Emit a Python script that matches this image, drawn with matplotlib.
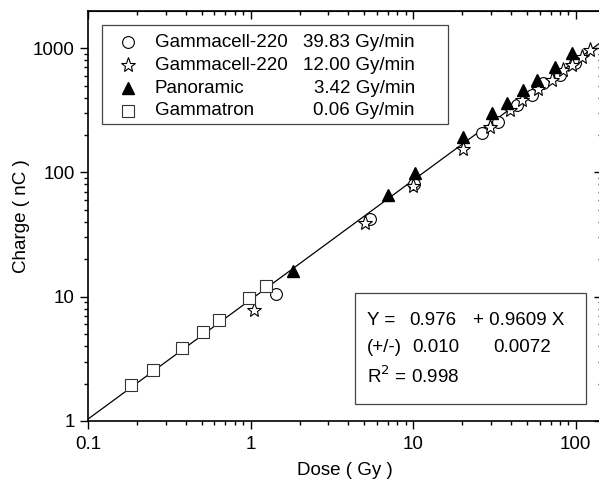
import numpy as np
import matplotlib.pyplot as plt
from matplotlib.patches import Rectangle

plt.rcParams['font.family'] = ['Liberation Sans', 'DejaVu Sans']

# Gammacell-220, 39.83 Gy/min
gc40_dose = [1.43, 5.4, 10.1, 26.5, 33.2, 43.4, 53.7, 62.8, 79.9, 98.7]
gc40_charge = [10.5, 42.2, 80, 207, 254, 349, 419, 524, 608, 759]
# Gammacell-220, 12.00 Gy/min
gc12_dose = [1.05, 5.04, 10.0, 20.2, 29.7, 39.4, 46.6, 58.5, 71.3, 83.3, 94.4, 108.7, 121.8]
gc12_charge = [7.8, 39.2, 77.9, 155, 232, 318, 382, 469, 554, 667, 731, 848, 966]
# Panoramic, 3.42 Gy/min
pan_dose = [1.83, 7.0, 10.2, 20.3, 30.5, 37.7, 47.3, 57.7, 74.3, 94.4]
pan_charge = [16.1, 65.8, 99, 193, 300, 362, 460, 554, 705, 913]
# Gammatron, 0.06 Gy/min
gt_dose = [0.185, 0.252, 0.38, 0.51, 0.644, 0.98, 1.245]
gt_charge = [1.95, 2.57, 3.87, 5.2, 6.5, 9.8, 12.2]

names = ['Gammacell-220', 'Gammacell-220', 'Panoramic', 'Gammatron']
rates = ['39.83 Gy/min', '12.00 Gy/min', '3.42 Gy/min', '0.06 Gy/min']

# log-log fit: log Y = A + B log X
fit_a, fit_b = 0.976, 0.9609

fig = plt.figure(figsize=(5.99, 4.82), dpi=100)
ax = fig.add_axes([0.1469, 0.1266, 0.858, 0.8506])
ax.set_xscale('log')
ax.set_yscale('log')
ax.set_xlim(0.1, 145)
ax.set_ylim(1, 1990)

xf = np.array([0.1, 150])
ax.plot(xf, 10**fit_a * xf**fit_b, color='black', lw=0.9, zorder=1)

mk = dict(linestyle='none', markerfacecolor='white', markeredgewidth=0.8)
styles = [
    dict(marker='o', markersize=8.5, markeredgecolor='black', **mk),
    dict(marker='*', markersize=11, markeredgecolor='black', **mk),
    dict(marker='^', markersize=9, markeredgecolor='black', linestyle='none',
         markerfacecolor='black'),
    dict(marker='s', markersize=8.5, markeredgecolor='#333333', **mk),
]
series = [(gc40_dose, gc40_charge), (gc12_dose, gc12_charge),
          (pan_dose, pan_charge), (gt_dose, gt_charge)]
for (xd, yd), st in zip(series, styles):
    ax.plot(xd, yd, zorder=3, **st)

fs = 13.5
ax.set_xlabel('Dose ( Gy )', fontsize=fs, labelpad=6)
ax.set_ylabel('Charge ( nC )', fontsize=fs, labelpad=2)
ax.set_xticks([0.1, 1, 10, 100])
ax.set_xticklabels(['0.1', '1', '10', '100'])
ax.set_yticks([1, 10, 100, 1000])
ax.set_yticklabels(['1', '10', '100', '1000'])
ax.tick_params(which='major', direction='out', length=6, width=1, labelsize=fs,
               top=False, right=False)
ax.tick_params(axis='x', which='major', pad=5)
ax.tick_params(which='minor', direction='out', length=3, width=1,
               top=False, right=False)
for s in ax.spines.values():
    s.set_linewidth(1.2)

top = ax.secondary_xaxis('top')
top.tick_params(which='major', direction='in', length=6, width=1, labeltop=False)
top.tick_params(which='minor', direction='in', length=3, width=1)
top.set_xticks([0.1, 1, 10, 100])
right = ax.secondary_yaxis('right')
right.tick_params(which='major', direction='in', length=6, width=1, labelright=False)
right.tick_params(which='minor', direction='in', length=3, width=1)
right.set_yticks([1, 10, 100, 1000])

# legend box
ax.add_patch(Rectangle((0.0272, 0.724), 0.673, 0.242, transform=ax.transAxes,
                       fill=False, edgecolor='#444444', lw=0.9, zorder=4))
rows = [0.924, 0.868, 0.812, 0.757]
for yy, st, nm, rt in zip(rows, styles, names, rates):
    ax.plot([0.0778], [yy], transform=ax.transAxes, clip_on=False, zorder=5, **st)
    ax.text(0.130, yy, nm, transform=ax.transAxes, fontsize=fs, va='center', ha='left')
    ax.text(0.636, yy, rt, transform=ax.transAxes, fontsize=fs, va='center', ha='right')

# fit result box
ax.add_patch(Rectangle((0.519, 0.0415), 0.450, 0.2705, transform=ax.transAxes,
                       fill=False, edgecolor='#444444', lw=0.9, zorder=4))
ax.text(0.543, 0.244, 'Y =', transform=ax.transAxes, fontsize=fs, va='center')
ax.text(0.626, 0.244, f'{fit_a:.3f}', transform=ax.transAxes, fontsize=fs, va='center')
ax.text(0.749, 0.244, f'+ {fit_b:.4f} X', transform=ax.transAxes, fontsize=fs, va='center')
ax.text(0.543, 0.180, '(+/-)', transform=ax.transAxes, fontsize=fs, va='center')
ax.text(0.630, 0.180, '0.010', transform=ax.transAxes, fontsize=fs, va='center')
ax.text(0.788, 0.180, '0.0072', transform=ax.transAxes, fontsize=fs, va='center')
ax.text(0.543, 0.110, 'R$^2$ = 0.998', transform=ax.transAxes, fontsize=fs, va='center')

fig.savefig('out.png', dpi=100)
